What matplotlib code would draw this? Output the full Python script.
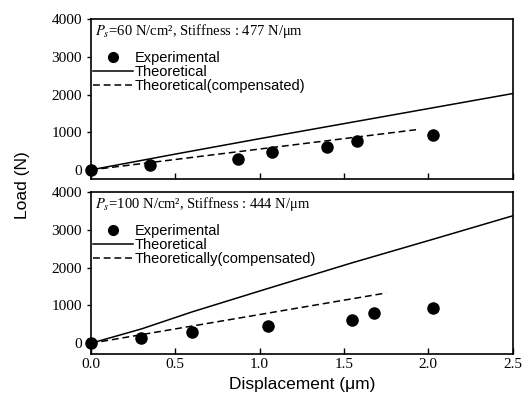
import matplotlib

matplotlib.use("Agg")
import matplotlib.pyplot as plt  # noqa: E402
from matplotlib.lines import Line2D  # noqa: E402

# Top panel: Ps = 60 N/cm^2
EXP60_X = [0.0, 0.35, 0.874, 1.076, 1.402, 1.576, 2.026]
EXP60_Y = [0, 140, 292, 468, 620, 779, 939]
THEO60_X = [0.0, 0.5, 1.0, 1.5, 2.0, 2.5]
THEO60_Y = [0, 420, 830, 1230, 1630, 2030]
COMP60_X = [0.0, 1.93]
COMP60_Y = [0, 1070]

# Bottom panel: Ps = 100 N/cm^2
EXP100_X = [0.0, 0.298, 0.598, 1.048, 1.55, 1.677, 2.026]
EXP100_Y = [0, 136, 290, 454, 608, 790, 935]
THEO100_X = [0.0, 0.3, 0.6, 1.05, 1.55, 2.02, 2.5]
THEO100_Y = [0, 380, 830, 1450, 2130, 2740, 3370]
COMP100_X = [0.0, 1.75]
COMP100_Y = [0, 1330]

X_TICKS = [0.0, 0.5, 1.0, 1.5, 2.0, 2.5]
Y_TICKS = [0, 1000, 2000, 3000, 4000]

SERIF = "Liberation Serif"
SANS = "Liberation Sans"
# serif by default (ticks, annotations); sans is named where it is needed
plt.rcParams["font.family"] = [SERIF, "DejaVu Serif"]
plt.rcParams["mathtext.fontset"] = "stix"

fig = plt.figure(figsize=(5.31, 3.99), dpi=100)
ax_top = fig.add_axes([0.171, 0.5506, 0.7945, 0.4006])
ax_bot = fig.add_axes([0.171, 0.114, 0.7945, 0.4048])

panels = [
    (ax_top, EXP60_X, EXP60_Y, THEO60_X, THEO60_Y, COMP60_X, COMP60_Y,
     r"$P_s$=60 N/cm², Stiffness : 477 N/μm", "Theoretical(compensated)", -250),
    (ax_bot, EXP100_X, EXP100_Y, THEO100_X, THEO100_Y, COMP100_X, COMP100_Y,
     r"$P_s$=100 N/cm², Stiffness : 444 N/μm", "Theoretically(compensated)", -270),
]

for ax, ex, ey, tx, ty, cx, cy, note, comp_label, ymin in panels:
    ax.plot(tx, ty, color="black", lw=1.1)
    ax.plot(cx, cy, color="black", lw=1.1, linestyle=(0, (4.5, 2.5)))
    ax.plot(ex, ey, "o", color="black", markersize=8, linestyle="none",
            clip_on=False, zorder=5)
    ax.set_xlim(0, 2.5)
    ax.set_ylim(ymin, 4000)
    ax.set_xticks(X_TICKS)
    ax.set_yticks(Y_TICKS)
    ax.tick_params(axis="x", direction="in", length=4, width=1, labelsize=11)
    ax.tick_params(axis="y", direction="out", length=3, width=1, labelsize=11)
    for sp in ax.spines.values():
        sp.set_linewidth(1.2)
    ax.text(0.01, 0.925, note, transform=ax.transAxes, fontsize=10.5,
            va="center", ha="left")
    handles = [
        Line2D([], [], marker="o", color="black", markersize=7, linestyle="none"),
        Line2D([], [], color="black", lw=1.1),
        Line2D([], [], color="black", lw=1.1, linestyle=(0, (4.5, 2.5))),
    ]
    ax.legend(handles, ["Experimental", "Theoretical", comp_label],
              loc="upper left", bbox_to_anchor=(-0.02, 0.865),
              frameon=False, handlelength=2.8, handletextpad=0.1,
              labelspacing=0.0, borderpad=0.2,
              prop={"family": SANS, "size": 10.5})

ax_top.tick_params(axis="x", labelbottom=False)

fig.text(0.042, 0.535, "Load (N)", rotation=90, family=SANS, fontsize=12.5,
         ha="center", va="center")
ax_bot.set_xlabel("Displacement (μm)", family=SANS, fontsize=12.5, labelpad=4)

fig.savefig("out.png", dpi=100)
